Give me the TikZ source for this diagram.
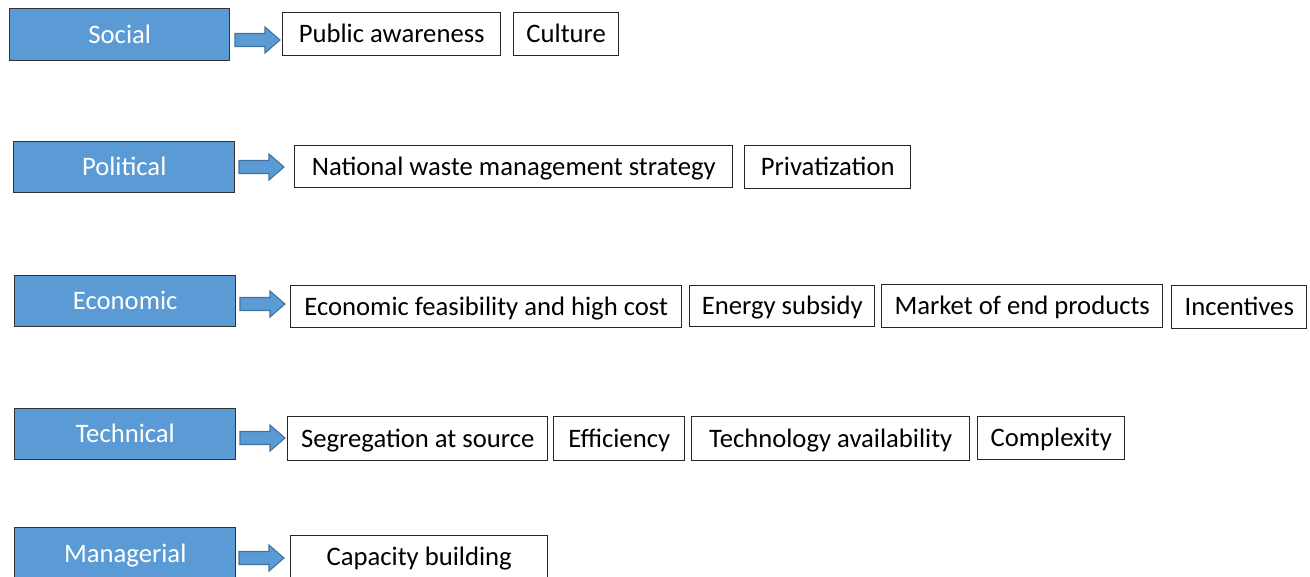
\documentclass[tikz,border=0pt]{standalone}
\usepackage{fontspec}
\setmainfont{Carlito}
\definecolor{catblue}{HTML}{5B9BD5}
\definecolor{catline}{HTML}{333333}
\definecolor{arrline}{HTML}{41719C}
\tikzset{
  sz/.style 2 args={minimum width=#1*0.75pt, minimum height=#2*0.75pt},
  boxtext/.style={font=\fontsize{20}{24}\selectfont, text height=12.9pt, text depth=0pt, inner sep=0pt, anchor=north west},
  catbox/.style={boxtext, draw=catline, line width=1.1pt, fill=catblue, text=white},
  itembox/.style={boxtext, draw=black!85, line width=1.1pt, fill=white, text=black},
  barrow/.pic={\filldraw[fill=catblue, draw=arrline, line width=0.8pt]
     (0,-6.5) -- (30,-6.5) -- (30,-13) -- (45,0) -- (30,13) -- (30,6.5) -- (0,6.5) -- cycle;}
}
\begin{document}
\begin{tikzpicture}[x=0.75pt, y=-0.75pt]
\useasboundingbox (0,0) rectangle (1310,576);
\clip (0,0) rectangle (1310,576);
% Row 1
\node[catbox, sz={220}{52}] (social) at (9,8) {Social};
\pic (arr1) at (235,40) {barrow};
\node[itembox, sz={218}{43}] (s1) at (282,12) {Public awareness};
\node[itembox, sz={105}{43}] (s2) at (513,12) {Culture};
% Row 2
\node[catbox, sz={221}{51}] (political) at (13,141) {Political};
\pic (arr2) at (239,167) {barrow};
\node[itembox, sz={438}{42}] (p1) at (294,145) {National waste management strategy};
\node[itembox, sz={166}{43}] (p2) at (744,145) {Privatization};
% Row 3
\node[catbox, sz={221}{51}] (economic) at (14,275) {Economic};
\pic (arr3) at (240,304) {barrow};
\node[itembox, sz={391}{42}] (e1) at (290,285) {Economic feasibility and high cost};
\node[itembox, sz={185}{41}] (e2) at (689,285) {Energy subsidy};
\node[itembox, sz={281}{43}] (e3) at (881,284) {Market of end products};
\node[itembox, sz={135}{43}] (e4) at (1171,285) {Incentives};
% Row 4
\node[catbox, sz={221}{51}] (technical) at (14,408) {Technical};
\pic (arr4) at (240,438) {barrow};
\node[itembox, sz={260}{44}] (t1) at (287,416) {Segregation at source};
\node[itembox, sz={131}{44}] (t2) at (553,416) {Efficiency};
\node[itembox, sz={278}{44}] (t3) at (691,416) {Technology availability};
\node[itembox, sz={147}{43}] (t4) at (977,416) {Complexity};
% Row 5
\node[catbox, sz={221}{52}] (managerial) at (14,527) {Managerial};
\pic (arr5) at (239,558) {barrow};
\node[itembox, sz={257}{43}] (m1) at (290,535) {Capacity building};
\end{tikzpicture}
\end{document}
